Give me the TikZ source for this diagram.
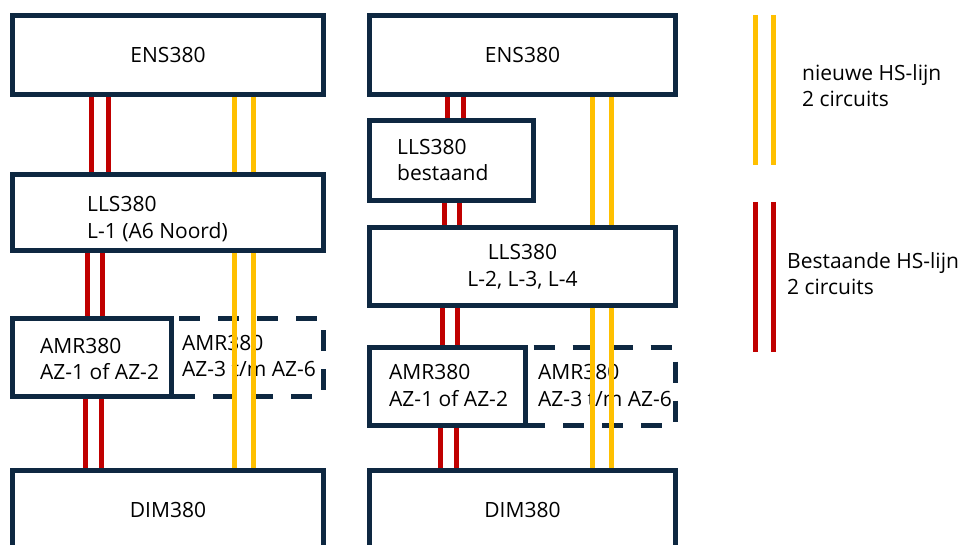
\documentclass[tikz,border=0pt]{standalone}
\usepackage{fontspec}
\setmainfont{Open Sans}
\definecolor{TNavy}{HTML}{0E2841}
\definecolor{TRed}{HTML}{C00000}
\definecolor{TYellow}{HTML}{FFC000}
\usetikzlibrary{positioning}
\tikzset{
  station/.style={draw=TNavy, line width=5pt, fill=white, inner sep=0pt, align=center},
  planned/.style={draw=TNavy, line width=5pt, dash pattern=on 21pt off 18pt, dash phase=31pt},
  txt/.style={anchor=west, align=left, inner sep=0pt},
  hsnew/.style={draw=TYellow, line width=5pt},
  hsold/.style={draw=TRed, line width=5pt},
}

\begin{document}
\begin{tikzpicture}[x=1pt, y=-1pt, font=\fontsize{21}{26.5}\selectfont]
      \useasboundingbox (0,0) rectangle (961,545);
      % left: one LLS
      \coordinate (azLne) at (323.5,318.5);
      \coordinate (azLse) at (323.5,396.5);
      \draw[planned] (171,318.5) -- (azLne) -- (azLse) -- (171,396.5);
      \node[station, minimum width=311pt, minimum height=79pt] (ensL) at (168,55) {ENS380};
      \node[station, minimum width=311pt, minimum height=76pt] (llsL) at (168,212.5) {};
      \node[station, minimum width=158.5pt, minimum height=78pt] (amrL) at (91.75,357.5) {};
      \node[station, minimum width=311pt, minimum height=79pt] (dimL) at (168,510) {DIM380};
      \node[txt] (llsLt) at (87,219) {LLS380\\L-1 (A6 Noord)};
      \node[txt] (amrLt) at (40,359) {AMR380\\AZ-1 of AZ-2};
      \node[txt] (azLt) at (182,356) {AMR380\\AZ-3 t/m AZ-6};
      \foreach \x in {91,108} \draw[hsold] (\x,0 |- ensL.south) -- (\x,0 |- llsL.north);
      \foreach \x in {87,102} \draw[hsold] (\x,0 |- llsL.south) -- (\x,0 |- amrL.north);
      \foreach \x in {85,101} \draw[hsold] (\x,0 |- amrL.south) -- (\x,0 |- dimL.north);
      \foreach \x in {234,253} {
        \draw[hsnew] (\x,0 |- ensL.south) -- (\x,0 |- llsL.north);
        \draw[hsnew] (\x,0 |- llsL.south) -- (\x,0 |- dimL.north);
      }
      % right: existing LLS plus new LLS
      \coordinate (azRne) at (675.5,347.5);
      \coordinate (azRse) at (675.5,425.5);
      \draw[planned] (525.5,347.5) -- (azRne) -- (azRse) -- (525.5,425.5);
      \node[station, minimum width=306pt, minimum height=79pt] (ensR) at (522.5,55) {ENS380};
      \node[station, minimum width=164pt, minimum height=80pt] (llsB) at (451.5,160.5) {};
      \node[station, minimum width=306pt, minimum height=78pt] (llsR) at (522.5,266.5) {LLS380\\L-2, L-3, L-4};
      \node[station, minimum width=156pt, minimum height=78pt] (amrR) at (447.5,386.5) {};
      \node[station, minimum width=306pt, minimum height=79pt] (dimR) at (522.5,510) {DIM380};
      \node[txt] (llsBt) at (397,160) {LLS380\\bestaand};
      \node[txt] (amrRt) at (389,385.5) {AMR380\\AZ-1 of AZ-2};
      \node[txt] (azRt) at (538,385.5) {AMR380\\AZ-3 t/m AZ-6};
      \foreach \x in {447,463} \draw[hsold] (\x,0 |- ensR.south) -- (\x,0 |- llsB.north);
      \foreach \x in {444,459} \draw[hsold] (\x,0 |- llsB.south) -- (\x,0 |- llsR.north);
      \foreach \x in {442,457} \draw[hsold] (\x,0 |- llsR.south) -- (\x,0 |- amrR.north);
      \foreach \x in {440,456} \draw[hsold] (\x,0 |- amrR.south) -- (\x,0 |- dimR.north);
      \foreach \x in {592,611} {
        \draw[hsnew] (\x,0 |- ensR.south) -- (\x,0 |- llsR.north);
        \draw[hsnew] (\x,0 |- llsR.south) -- (\x,0 |- dimR.north);
      }
      % legend
      \foreach \x in {755,773} {
        \draw[hsnew] (\x,15) -- (\x,165);
        \draw[hsold] (\x,202) -- (\x,352);
      }
      \node[txt] (newlbl) at (802,85.5) {nieuwe HS-lijn\\2 circuits};
      \node[txt] (oldlbl) at (787,273.5) {Bestaande HS-lijn\\2 circuits};
    \end{tikzpicture}
\end{document}
